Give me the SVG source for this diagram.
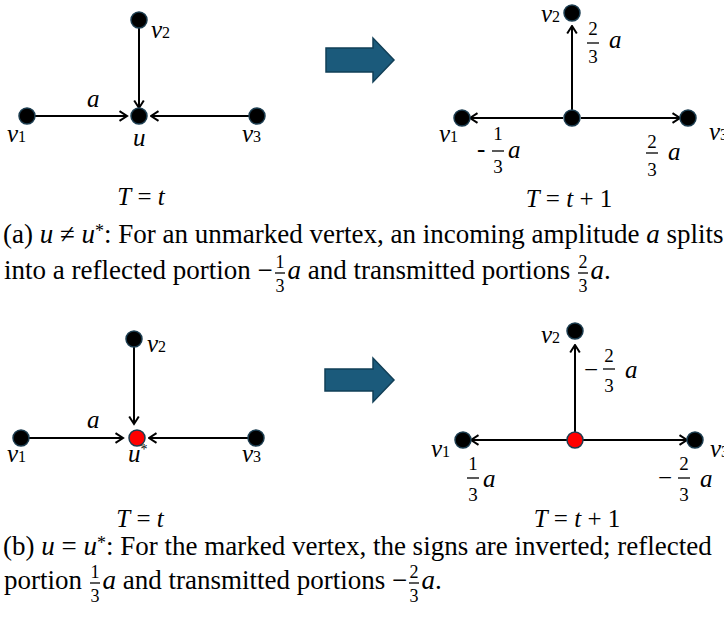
<svg xmlns="http://www.w3.org/2000/svg" width="724" height="620" viewBox="0 0 724 620">
<style>
.cap{font-family:"Liberation Serif","Times New Roman",serif;font-size:27px;fill:#000}
.mi{font-style:italic}
.m{font-family:"Liberation Serif","Times New Roman",serif;font-size:25px;fill:#000}
.it{font-style:italic}
.sub{font-size:16px;font-style:normal}
.fr{font-family:"Liberation Serif","Times New Roman",serif;font-size:19px;fill:#000;text-anchor:middle}
.cf{font-family:"Liberation Serif","Times New Roman",serif;font-size:18px;fill:#000;text-anchor:middle}
.edge{stroke:#000;stroke-width:2;fill:none;marker-end:url(#ah)}
.node{fill:#000;stroke:#1c3d50;stroke-width:1.5}
.marked{fill:#ff0000;stroke:#1c3d50;stroke-width:1.5}
.bar{stroke:#000;stroke-width:1.3}
.big{fill:#1b5a7b;stroke:#113f57;stroke-width:1.5}
</style>
<defs>
<marker id="ah" viewBox="0 0 12 12" refX="10.5" refY="6" markerWidth="12" markerHeight="12" markerUnits="userSpaceOnUse" orient="auto">
<path d="M3,1.2 L10.5,6 L3,10.8" fill="none" stroke="#000" stroke-width="2"/>
</marker>
</defs>
<rect width="724" height="620" fill="#fff"/>

<!-- (a) before -->
<g id="connectors-a1">
<line class="edge" x1="35" y1="116" x2="127" y2="116"/>
<line class="edge" x1="139" y1="28" x2="139" y2="108"/>
<line class="edge" x1="249" y1="116" x2="151" y2="116"/>
</g>
<g id="a1-v1"><circle class="node" cx="27" cy="116" r="8"/><text class="m" x="7" y="142"><tspan class="it">v</tspan><tspan class="sub">1</tspan></text></g>
<g id="a1-v2"><circle class="node" cx="139" cy="20" r="8"/><text class="m" x="151" y="38"><tspan class="it">v</tspan><tspan class="sub">2</tspan></text></g>
<g id="a1-u"><circle class="node" cx="139" cy="116" r="8"/><text class="m it" x="133" y="146">u</text></g>
<g id="a1-v3"><circle class="node" cx="257" cy="116" r="8"/><text class="m" x="242" y="142"><tspan class="it">v</tspan><tspan class="sub">3</tspan></text></g>
<text class="m it" x="87" y="107">a</text>
<text class="m" x="141" y="205" text-anchor="middle"><tspan class="it">T</tspan> = <tspan class="it">t</tspan></text>

<!-- big arrows -->
<polygon id="step-a" class="big" points="326,48 373,48 373,38 394,60 373,82 373,72 326,72"/>
<polygon id="step-b" class="big" points="325,369 373,369 373,358 394,380 373,402 373,391 325,391"/>

<!-- (a) after -->
<g id="connectors-a2">
<line class="edge" x1="572" y1="110" x2="572" y2="26"/>
<line class="edge" x1="563" y1="118" x2="470" y2="118"/>
<line class="edge" x1="581" y1="118" x2="680" y2="118"/>
</g>
<g id="a2-v2"><circle class="node" cx="572" cy="13" r="8"/><text class="m" x="541" y="22"><tspan class="it">v</tspan><tspan class="sub">2</tspan></text></g>
<g id="a2-u"><circle class="node" cx="572" cy="118" r="8"/></g>
<g id="a2-v1"><circle class="node" cx="462" cy="118" r="8"/><text class="m" x="439" y="142"><tspan class="it">v</tspan><tspan class="sub">1</tspan></text></g>
<g id="a2-v3"><circle class="node" cx="688" cy="118" r="8"/><text class="m" x="709" y="140"><tspan class="it">v</tspan><tspan class="sub">3</tspan></text></g>
<g id="a2-w-up">
<text class="fr" x="593" y="35">2</text><line class="bar" x1="587" y1="43" x2="599" y2="43"/><text class="fr" x="593" y="63">3</text>
<text class="m it" x="609" y="48">a</text>
</g>
<g id="a2-w-left">
<text class="m" x="477" y="157">-</text>
<text class="fr" x="498" y="140">1</text><line class="bar" x1="492" y1="151" x2="504" y2="151"/><text class="fr" x="498" y="173">3</text>
<text class="m it" x="508" y="158">a</text>
</g>
<g id="a2-w-right">
<text class="fr" x="652" y="148">2</text><line class="bar" x1="646" y1="153" x2="658" y2="153"/><text class="fr" x="652" y="176">3</text>
<text class="m it" x="668" y="160">a</text>
</g>
<text class="m" x="569" y="207" text-anchor="middle"><tspan class="it">T</tspan> = <tspan class="it">t</tspan> + 1</text>

<!-- caption (a) -->
<text class="cap" x="3" y="243">(a) <tspan class="mi">u</tspan> ≠ <tspan class="mi">u</tspan><tspan font-size="18" dy="-6">*</tspan><tspan dy="6">: For an unmarked vertex, an incoming amplitude </tspan><tspan class="mi">a</tspan> splits</text>
<text class="cap" x="4" y="279">into a reflected portion</text>
<text class="cap" x="257.5" y="279">−</text>
<text class="cf" x="280" y="268">1</text><line class="bar" x1="275" y1="273" x2="285" y2="273"/><text class="cf" x="280" y="292">3</text>
<text class="cap mi" x="287.5" y="279">a</text>
<text class="cap" x="307.8" y="279">and transmitted portions</text>
<text class="cf" x="583" y="268">2</text><line class="bar" x1="578" y1="273" x2="588" y2="273"/><text class="cf" x="583" y="292">3</text>
<text class="cap" x="590.5" y="279"><tspan class="mi">a</tspan>.</text>

<!-- (b) before -->
<g id="connectors-b1">
<line class="edge" x1="29" y1="438" x2="123" y2="438"/>
<line class="edge" x1="134" y1="347" x2="134" y2="424"/>
<line class="edge" x1="248" y1="438" x2="149" y2="438"/>
</g>
<g id="b1-v1"><circle class="node" cx="21" cy="438" r="8"/><text class="m" x="7" y="462"><tspan class="it">v</tspan><tspan class="sub">1</tspan></text></g>
<g id="b1-v2"><circle class="node" cx="134" cy="339" r="8"/><text class="m" x="147" y="352"><tspan class="it">v</tspan><tspan class="sub">2</tspan></text></g>
<g id="b1-u"><circle class="marked" cx="137" cy="438" r="8"/><text class="m" x="128" y="462"><tspan class="it">u</tspan><tspan font-size="14" dy="-8">*</tspan></text></g>
<g id="b1-v3"><circle class="node" cx="256" cy="438" r="8"/><text class="m" x="242" y="462"><tspan class="it">v</tspan><tspan class="sub">3</tspan></text></g>
<text class="m it" x="87" y="428">a</text>
<text class="m" x="140" y="527" text-anchor="middle"><tspan class="it">T</tspan> = <tspan class="it">t</tspan></text>

<!-- (b) after -->
<g id="connectors-b2">
<line class="edge" x1="575" y1="432" x2="575" y2="345"/>
<line class="edge" x1="567" y1="440" x2="471" y2="440"/>
<line class="edge" x1="583" y1="440" x2="687" y2="440"/>
</g>
<g id="b2-v2"><circle class="node" cx="575" cy="331" r="8"/><text class="m" x="541" y="343"><tspan class="it">v</tspan><tspan class="sub">2</tspan></text></g>
<g id="b2-u"><circle class="marked" cx="575" cy="440" r="8"/></g>
<g id="b2-v1"><circle class="node" cx="463" cy="440" r="8"/><text class="m" x="431" y="457"><tspan class="it">v</tspan><tspan class="sub">1</tspan></text></g>
<g id="b2-v3"><circle class="node" cx="695" cy="440" r="8"/><text class="m" x="710" y="457"><tspan class="it">v</tspan><tspan class="sub">3</tspan></text></g>
<g id="b2-w-up">
<text class="m" x="584" y="378">−</text>
<text class="fr" x="609" y="362">2</text><line class="bar" x1="603" y1="369" x2="615" y2="369"/><text class="fr" x="609" y="392">3</text>
<text class="m it" x="625" y="378">a</text>
</g>
<g id="b2-w-left">
<text class="fr" x="473" y="470">1</text><line class="bar" x1="467" y1="478" x2="479" y2="478"/><text class="fr" x="473" y="501">3</text>
<text class="m it" x="483" y="487">a</text>
</g>
<g id="b2-w-right">
<text class="m" x="658" y="486">−</text>
<text class="fr" x="684" y="470">2</text><line class="bar" x1="678" y1="478" x2="690" y2="478"/><text class="fr" x="684" y="501">3</text>
<text class="m it" x="700" y="487">a</text>
</g>
<text class="m" x="577" y="527" text-anchor="middle"><tspan class="it">T</tspan> = <tspan class="it">t</tspan> + 1</text>

<!-- caption (b) -->
<text class="cap" x="3" y="555">(b) <tspan class="mi">u</tspan> = <tspan class="mi">u</tspan><tspan font-size="18" dy="-6">*</tspan><tspan dy="6">: For the marked vertex, the signs are inverted; reflected</tspan></text>
<text class="cap" x="4" y="589">portion</text>
<text class="cf" x="95" y="578">1</text><line class="bar" x1="90" y1="583" x2="100" y2="583"/><text class="cf" x="95" y="602">3</text>
<text class="cap mi" x="102.5" y="589">a</text>
<text class="cap" x="122.8" y="589">and transmitted portions</text>
<text class="cap" x="392" y="589">−</text>
<text class="cf" x="414" y="578">2</text><line class="bar" x1="409" y1="583" x2="419" y2="583"/><text class="cf" x="414" y="602">3</text>
<text class="cap" x="421.5" y="589"><tspan class="mi">a</tspan>.</text>
</svg>
